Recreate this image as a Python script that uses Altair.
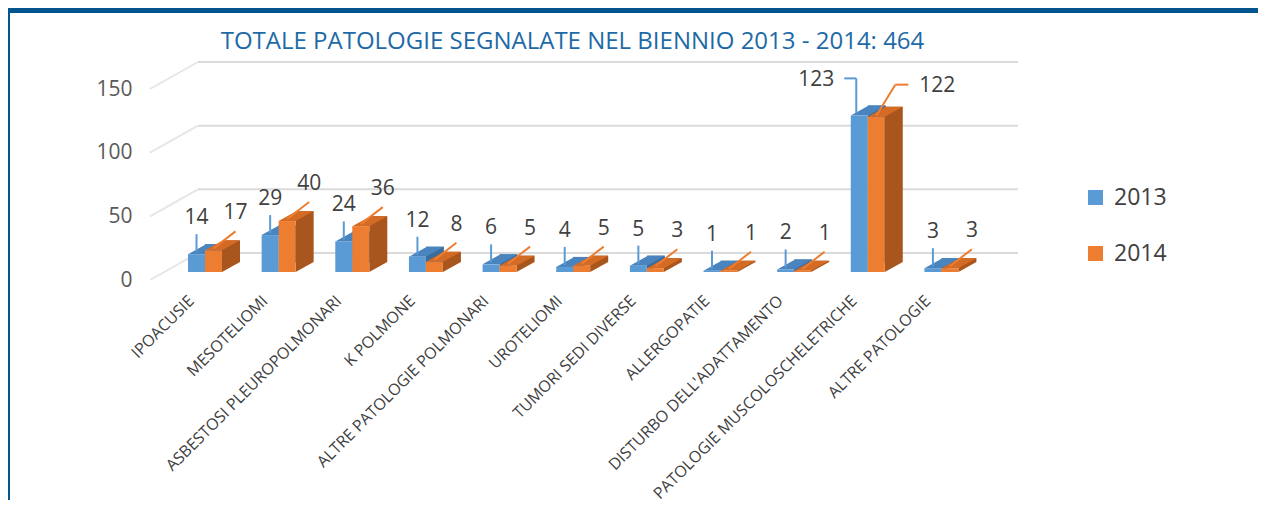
import json
import altair as alt
import pandas as pd

# ---------------- data ----------------
categories = [
    "IPOACUSIE", "MESOTELIOMI", "ASBESTOSI PLEUROPOLMONARI", "K POLMONE",
    "ALTRE PATOLOGIE POLMONARI", "UROTELIOMI", "TUMORI SEDI DIVERSE",
    "ALLERGOPATIE", "DISTURBO DELL'ADATTAMENTO",
    "PATOLOGIE MUSCOLOSCHELETRICHE", "ALTRE PATOLOGIE",
]
v2013 = [14, 29, 24, 12, 6, 4, 5, 1, 2, 123, 3]
v2014 = [17, 40, 36, 8, 5, 5, 3, 1, 1, 122, 3]
years = ["2013", "2014"]
y_ticks = [0, 50, 100, 150]
title_text = "TOTALE PATOLOGIE SEGNALATE NEL BIENNIO 2013 - 2014: 464"

rows = []
for i, c in enumerate(categories):
    rows.append({"idx": i, "cat": c, "year": "2013", "val": v2013[i]})
    rows.append({"idx": i, "cat": c, "year": "2014", "val": v2014[i]})
df = pd.DataFrame(rows)
grid_df = pd.DataFrame({"g": y_ticks})
one = pd.DataFrame({"t": [title_text]})

# ---------------- style ----------------
W, H = 868, 191
BAR, DX, DY, LIFT = 17, 18, 10, 8
FONT = "Open Sans"
front = {"2013": "#5B9BD5", "2014": "#ED7D31"}
topc = {"2013": "#4A84BF", "2014": "#D46B25"}
side = {"2013": "#3A6C9C", "2014": "#A9561E"}
TXT = "#404040"

xscale = alt.Scale(domain=[-0.747, 11.04], nice=False, zero=False)
yscale = alt.Scale(domain=[0, 150], nice=False, zero=True)

label_expr = json.dumps(categories) + "[datum.value]"
xaxis = alt.Axis(values=list(range(len(categories))), labelExpr=label_expr,
                 labelAngle=-45, labelAlign="right", labelBaseline="middle",
                 labelOffset=-14, labelPadding=18, labelFont=FONT,
                 labelFontSize=16, labelColor=TXT, labelOverlap=False,
                 labelLimit=500, labelFlush=False, domain=False, ticks=False,
                 tickSize=0, grid=False, title=None)
yaxis = alt.Axis(values=y_ticks, labelFont=FONT, labelFontSize=21,
                 labelColor="#595959", labelPadding=18, labelFlush=False,
                 domain=False, ticks=False, tickSize=0, grid=False, title=None)

X = alt.X("idx:Q", scale=xscale, axis=xaxis)
X2 = alt.X2("idx")


def Y(field):
    return alt.Y(f"{field}:Q", scale=yscale, axis=yaxis)


base = alt.Chart(df)
layers = []

# frame decoration
layers.append(alt.Chart(one).mark_rect(color="#02558F").encode(
    x=alt.value(-142), x2=alt.value(1110), y=alt.value(-81), y2=alt.value(-76)))
layers.append(alt.Chart(one).mark_rect(color="#02558F").encode(
    x=alt.value(-142), x2=alt.value(-140), y=alt.value(-81), y2=alt.value(411)))

# 3D-looking gridlines (back wall + slanted side wall)
layers.append(alt.Chart(grid_df).mark_rule(color="#DADADA", strokeWidth=2, yOffset=-27).encode(
    y=Y("g"), x=alt.value(48), x2=alt.value(W)))
layers.append(alt.Chart(grid_df).mark_rule(color="#E6E6E6", strokeWidth=2, y2Offset=-27).encode(
    y=Y("g"), y2=alt.Y2("g"), x=alt.value(0), x2=alt.value(48)))

color_enc = alt.Color("year:N", scale=alt.Scale(domain=years, range=[front[y] for y in years]),
                      legend=alt.Legend(title=None, orient="none", legendX=934, legendY=97,
                                        symbolType="square", symbolSize=225,
                                        symbolStrokeWidth=0, labelFont=FONT,
                                        labelFontSize=23, labelColor=TXT,
                                        labelOffset=7, rowPadding=32, padding=0))

for yr in years:
    lo = -BAR if yr == "2013" else 0
    ro = lo + BAR
    sel = base.transform_filter(alt.datum.year == yr)
    # side face
    layers.append(sel.mark_rect(color=side[yr], xOffset=ro, x2Offset=ro + DX,
                                yOffset=-LIFT - DY, y2Offset=-LIFT - DY).encode(
        x=X, x2=X2, y=Y("val"), y2=alt.datum(0)))
    layers.append(sel.mark_point(shape=f"M0,0 L0,-{DY} L{DX},-{DY} Z", size=4, filled=True,
                                 opacity=1, strokeWidth=0, color=side[yr],
                                 xOffset=ro, yOffset=-LIFT).encode(
        x=X, y=alt.datum(0)))
    # top face
    layers.append(sel.mark_point(shape=f"M0,0 L{BAR},0 L{BAR + DX},-{DY} L{DX},-{DY} Z", size=4,
                                 filled=True, opacity=1, strokeWidth=0, color=topc[yr],
                                 xOffset=lo, yOffset=-LIFT).encode(
        x=X, y=Y("val")))
    # front face
    layers.append(sel.mark_rect(xOffset=lo, x2Offset=ro, yOffset=-LIFT, y2Offset=-LIFT).encode(
        x=X, x2=X2, y=Y("val"), y2=alt.datum(0), color=color_enc))

# leader lines and value labels
small_b = base.transform_filter((alt.datum.year == "2013") & (alt.datum.val < 100))
small_o = base.transform_filter((alt.datum.year == "2014") & (alt.datum.val < 100))
big_b = base.transform_filter((alt.datum.year == "2013") & (alt.datum.val >= 100))
big_o = base.transform_filter((alt.datum.year == "2014") & (alt.datum.val >= 100))

def leader(src, col, xo, x2o, yo, y2o):
    return src.mark_rule(color=col, strokeWidth=2, xOffset=xo, x2Offset=x2o,
                         yOffset=yo - LIFT, y2Offset=y2o - LIFT).encode(
        x=X, x2=X2, y=Y("val"), y2=alt.Y2("val"))

layers.append(leader(small_b, front["2013"], -8.5, -8.5, -2, -20))
layers.append(leader(small_o, front["2014"], 8.5, 30.5, -2, -19))
layers.append(leader(big_b, front["2013"], -11.5, -11.5, -2, -37))
layers.append(leader(big_b, front["2013"], -23.5, -11.5, -37, -37))
layers.append(leader(big_o, front["2014"], 8.5, 27.5, -1, -32))
layers.append(leader(big_o, front["2014"], 27.5, 40.5, -32, -32))

def vlabel(src, dx, dy):
    return src.mark_text(font=FONT, fontSize=21, color=TXT, dx=dx, dy=dy - LIFT,
                         baseline="middle", align="center").encode(
        x=X, y=Y("val"), text="val:Q")

layers.append(vlabel(small_b, -8.5, -36))
layers.append(vlabel(small_o, 30.5, -37))
layers.append(vlabel(big_b, -51.5, -35))
layers.append(vlabel(big_o, 69.5, -31))

# title
layers.append(alt.Chart(one).mark_text(font=FONT, fontSize=24, color="#1E6AA6",
                                       align="center", baseline="alphabetic").encode(
    x=alt.value(422.5), y=alt.value(-40), text="t:N"))

chart = alt.layer(*layers).properties(
    width=W, height=H,
    autosize=alt.AutoSizeParams(type="none"),
    padding={"left": 142, "top": 81, "right": 240, "bottom": 228},
    background="white",
).configure_view(strokeWidth=0)

chart.save("out.html", embed_options={"renderer": "svg", "actions": False})
